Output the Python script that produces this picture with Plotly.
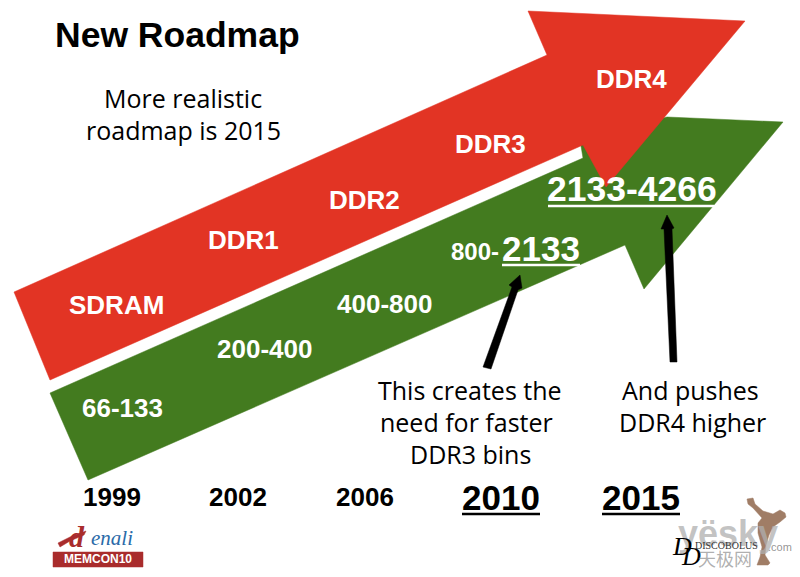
import plotly.graph_objects as go

# everything sits on a pixel grid the size of the slide
WIDTH = 800
HEIGHT = 577

RED = "#e23424"
GREEN = "#437b1f"
LOGO_RED = "#a92c2c"

red_arrow_x = [14, 547, 528, 745, 606, 583, 50, 14]
red_arrow_y = [292, 55, 11, 21, 187, 145, 380, 292]
green_arrow_x = [50, 583, 580, 667, 783, 644, 625, 88, 50]
green_arrow_y = [393, 158, 140, 117, 122, 289, 245, 480, 393]

arrow1_x = [483, 512, 509, 520, 522, 518, 491, 483]
arrow1_y = [367, 287, 285, 275, 288, 290, 369, 367]
arrow2_x = [670, 664, 661, 667, 674, 672, 677, 670]
arrow2_y = [362, 229, 229, 215, 228, 229, 362, 362]

title_text = ["New Roadmap"]
title_x = [177]
title_y = [35]

note_text = ["More realistic", "roadmap is 2015", "This creates the", "need for faster",
             "DDR3 bins", "And pushes", "DDR4 higher"]
note_x = [183, 183, 470, 466, 470, 690, 692]
note_y = [98, 130, 390, 422, 454, 390, 422]

ddr_text = ["SDRAM", "DDR1", "DDR2", "DDR3", "DDR4"]
ddr_x = [116, 243, 364, 490, 631]
ddr_y = [305, 240, 200, 144, 79]

speed_text = ["66-133", "200-400", "400-800"]
speed_x = [122, 264, 384]
speed_y = [408, 349, 304]

small_year_text = ["1999", "2002", "2006"]
small_year_x = [112, 238, 365]
small_year_y = [497, 497, 497]

big_year_text = ["2010", "2015"]
big_year_x = [501, 641]
big_year_y = [497, 497]

underline_x = [[462, 540], [602, 680], [502, 580], [548, 714]]
underline_y = [[514, 514], [514, 514], [265, 265], [206, 206]]
underline_color = ["black", "black", "white", "white"]

memcon_x = [53, 143, 143, 53, 53]
memcon_y = [552, 552, 567, 567, 552]

denali_swoosh_x = [58, 70, 86, 84, 70, 60, 58]
denali_swoosh_y = [543, 537, 531, 535, 541, 547, 543]

statue_x = [747, 753, 755, 763, 773, 780, 785, 786, 780, 773, 769, 766, 765, 770, 768, 757, 760, 762, 758, 758, 762, 753, 748, 747]
statue_y = [499, 498, 504, 511, 514, 510, 513, 517, 522, 527, 535, 545, 555, 563, 565, 565, 557, 547, 533, 523, 518, 508, 504, 499]


def polygon(xs, ys, color):
    return go.Scatter(x=xs, y=ys, mode="lines", fill="toself", fillcolor=color,
                      line=dict(color=color, width=0.5), hoverinfo="skip", showlegend=False)


def label(fig, text, x, y, size, color="black", family="Liberation Sans", bold=True):
    if bold:
        text = "<b>" + text + "</b>"
    fig.add_annotation(x=x, y=y, text=text, showarrow=False, xanchor="center", yanchor="middle",
                       font=dict(family=family, size=size, color=color))


fig = go.Figure()
fig.add_trace(polygon(green_arrow_x, green_arrow_y, GREEN))
fig.add_trace(polygon(red_arrow_x, red_arrow_y, RED))
fig.add_trace(polygon(arrow1_x, arrow1_y, "black"))
fig.add_trace(polygon(arrow2_x, arrow2_y, "black"))
fig.add_trace(polygon(memcon_x, memcon_y, LOGO_RED))
fig.add_trace(polygon(denali_swoosh_x, denali_swoosh_y, LOGO_RED))
fig.add_trace(polygon(statue_x, statue_y, "#a07d66"))

for xs, ys, c in zip(underline_x, underline_y, underline_color):
    fig.add_trace(go.Scatter(x=xs, y=ys, mode="lines", line=dict(color=c, width=2.5),
                             hoverinfo="skip", showlegend=False))

label(fig, title_text[0], title_x[0], title_y[0], 35.5)
for t, x, y in zip(note_text, note_x, note_y):
    label(fig, t, x, y, 25, family="Open Sans", bold=False)
for t, x, y in zip(ddr_text, ddr_x, ddr_y):
    label(fig, t, x, y, 26, color="white")
for t, x, y in zip(speed_text, speed_x, speed_y):
    label(fig, t, x, y, 26, color="white")
label(fig, "800-", 475, 251, 24, color="white")
label(fig, "2133", 541, 248, 35, color="white")
label(fig, "2133-4266", 632, 189, 35.5, color="white")
for t, x, y in zip(small_year_text, small_year_x, small_year_y):
    label(fig, t, x, y, 26)
for t, x, y in zip(big_year_text, big_year_x, big_year_y):
    label(fig, t, x, y, 35)

# logos, bottom left
label(fig, "<i>d</i>", 77, 536, 30, color=LOGO_RED, family="Liberation Serif")
label(fig, "<i>enali</i>", 112, 538, 21, color="#2a6aa8", family="Liberation Serif", bold=False)
label(fig, "MEMCON10", 98, 559, 12, color="white")

# logo and watermark, bottom right
label(fig, "yësky", 728, 533, 36, color="rgba(175,175,175,0.75)")
label(fig, "<i>D</i>", 682, 546, 26, family="Liberation Serif", bold=False)
label(fig, "<i>D</i>", 691, 556, 26, family="Liberation Serif", bold=False)
label(fig, "DISCOBOLUS", 726, 545, 10, color="#333333", family="Liberation Serif", bold=False)
label(fig, "天极网", 725, 558, 18, color="rgba(150,150,150,0.75)", family="Noto Sans CJK SC", bold=False)
label(fig, ".com", 780, 547, 11, color="rgba(130,130,130,0.85)", bold=False)

fig.update_xaxes(range=[0, WIDTH], visible=False, fixedrange=True)
fig.update_yaxes(range=[HEIGHT, 0], visible=False, fixedrange=True)
fig.update_layout(width=WIDTH, height=HEIGHT, margin=dict(l=0, r=0, t=0, b=0),
                  paper_bgcolor="white", plot_bgcolor="white", showlegend=False)
# the page body has a default margin that would push the slide off the window
fig.write_html("out.html", config=dict(displayModeBar=False),
               post_script="document.body.style.margin='0';")
